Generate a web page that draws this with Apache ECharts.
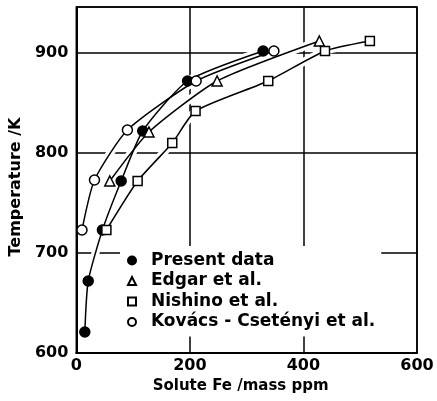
<!DOCTYPE html>
<html>
<head>
<meta charset="utf-8">
<script src="https://cdn.jsdelivr.net/npm/echarts@6/dist/echarts.min.js"></script>
<style>
  html, body { margin: 0; padding: 0; background: #fff; }
  #chart { width: 437px; height: 401px; }
</style>
</head>
<body>
<div id="chart"></div>
<script>
// Solubility of Fe: solute content (mass ppm) against temperature (K)
const presentFe = [15, 21, 46, 79, 117, 196, 329];
const presentT  = [621, 672, 723, 772, 822, 872, 902];

const edgarFe = [59, 128, 248, 428];
const edgarT  = [772, 821, 872, 912];

const nishinoFe = [53, 108, 169, 210, 338, 438, 517];
const nishinoT  = [723, 772, 810, 842, 872, 902, 912];

const kovacsFe = [10, 32, 90, 211, 348];
const kovacsT  = [723, 773, 823, 872, 902];

const seriesNames = ['Present data', 'Edgar et al.', 'Nishino et al.', 'Kovács - Csetényi et al.'];
const xTicks = [0, 200, 400, 600];
const yTicks = [600, 700, 800, 900];

const sets = [
  { name: seriesNames[0], fe: presentFe, t: presentT, symbol: 'circle',   size: 10, fill: '#000' },
  { name: seriesNames[1], fe: edgarFe,   t: edgarT,   symbol: 'triangle', size: 10, fill: '#fff' },
  { name: seriesNames[2], fe: nishinoFe, t: nishinoT, symbol: 'rect',     size: 9,  fill: '#fff' },
  { name: seriesNames[3], fe: kovacsFe,  t: kovacsT,  symbol: 'circle',   size: 10, fill: '#fff' }
];

const pairs = s => s.fe.map((v, i) => [v, s.t[i]]);
const FONT = '"DejaVu Sans", sans-serif';
const SMOOTH = 0.2;

const series = [];
// white halo under each curve so grid lines break around it
sets.forEach(s => series.push({
  type: 'line', name: s.name + ' halo', data: pairs(s), smooth: SMOOTH,
  showSymbol: false, silent: true, z: 1,
  lineStyle: { color: '#fff', width: 8 }
}));
// fitted curves
sets.forEach(s => series.push({
  type: 'line', name: s.name + ' curve', data: pairs(s), smooth: SMOOTH,
  showSymbol: false, silent: true, z: 2,
  lineStyle: { color: '#000', width: 1.5 }
}));
// measured points
sets.forEach(s => series.push({
  type: 'scatter', name: s.name, data: pairs(s), z: 3,
  symbol: s.symbol, symbolSize: s.size,
  itemStyle: { color: s.fill, borderColor: '#000', borderWidth: 1.5, opacity: 1 }
}));

const chart = echarts.init(document.getElementById('chart'), null, { renderer: 'canvas' });
chart.setOption({
  backgroundColor: '#fff',
  animation: false,
  grid: {
    left: 76, right: 20, top: 7, bottom: 48,
    show: true, borderColor: '#000', borderWidth: 1.5, backgroundColor: 'transparent'
  },
  xAxis: {
    type: 'value', min: xTicks[0], max: xTicks[xTicks.length - 1], interval: 200,
    name: 'Solute Fe /mass ppm', nameLocation: 'middle', nameGap: 26,
    nameTextStyle: { fontFamily: FONT, fontWeight: 'bold', fontSize: 15, color: '#000', padding: [0, 12, 0, 0] },
    axisLine: { show: true, lineStyle: { color: '#000', width: 2 } },
    axisTick: { show: false },
    axisLabel: { margin: 5, fontFamily: FONT, fontWeight: 'bold', fontSize: 16, color: '#000' },
    splitLine: { show: true, lineStyle: { color: '#000', width: 1.5 } }
  },
  yAxis: {
    type: 'value', min: yTicks[0], max: 946, interval: 100,
    name: 'Temperature /K', nameLocation: 'middle', nameGap: 49, nameRotate: 90,
    nameTextStyle: { fontFamily: FONT, fontWeight: 'bold', fontSize: 16, color: '#000', padding: [0, 14, 0, 0] },
    axisLine: { show: true, lineStyle: { color: '#000', width: 2 } },
    axisTick: { show: false },
    axisLabel: {
      margin: 8, fontFamily: FONT, fontWeight: 'bold', fontSize: 16, color: '#000',
      formatter: v => (yTicks.indexOf(v) >= 0 ? String(v) : '')
    },
    splitLine: { show: true, lineStyle: { color: '#000', width: 1.5 } }
  },
  legend: {
    data: seriesNames,
    orient: 'vertical',
    left: 120, top: 246,
    padding: [6, 6, 6, 7],
    backgroundColor: '#fff',
    itemWidth: 8, itemHeight: 8, itemGap: 3.5,
    textStyle: { fontFamily: FONT, fontWeight: 'bold', fontSize: 17, color: '#000', padding: [0, 0, 0, 10] }
  },
  series: series
});
</script>
</body>
</html>
